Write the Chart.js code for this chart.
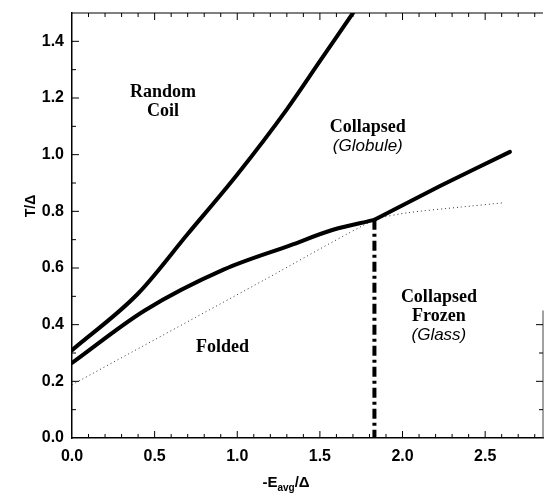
<!DOCTYPE html>
<html>
<head>
<meta charset="utf-8">
<script src="https://cdn.jsdelivr.net/npm/chart.js@4/dist/chart.umd.min.js"></script>
<style>
  html, body { margin: 0; padding: 0; background: #fff; }
  #wrap { width: 545px; height: 493px; position: relative; }
</style>
</head>
<body>
<div id="wrap"><canvas id="phase"></canvas></div>
<script>
// Phase boundaries, read as (-E_avg/Δ, T/Δ) pairs
const coilX = [0, 0.40, 0.70, 1.0, 1.30, 1.50, 1.70];
const coilY = [0.31, 0.51, 0.72, 0.93, 1.16, 1.33, 1.50];

const foldX = [0, 0.44, 0.92, 1.32, 1.58, 1.83, 2.23, 2.65];
const foldY = [0.265, 0.45, 0.595, 0.68, 0.735, 0.77, 0.89, 1.01];
const kinkIndex = 5; // where the folding line meets the freezing line

const glassX = [0, 1.17, 1.83, 2.03, 2.35, 2.61];
const glassY = [0.188, 0.56, 0.77, 0.795, 0.815, 0.83];

const freezeX = [1.83, 1.83];
const freezeY = [0.77, 0];

const xTicks = [0, 0.5, 1.0, 1.5, 2.0, 2.5];
const yTicks = [0, 0.2, 0.4, 0.6, 0.8, 1.0, 1.2, 1.4];

// region names, anchored in data units
const regionNames = [
  { lines: ['Random', 'Coil'], x: 0.55, y: 1.22, italic: [false, false] },
  { lines: ['Collapsed', '(Globule)'], x: 1.79, y: 1.095, italic: [false, true] },
  { lines: ['Folded'], x: 0.91, y: 0.32, italic: [false] },
  { lines: ['Collapsed', 'Frozen', '(Glass)'], x: 2.22, y: 0.495, italic: [false, false, true] }
];

const pts = (xs, ys) => xs.map((x, i) => ({ x: x, y: ys[i] }));

// inward tick marks on the frame, plus labels and axis titles
const framePlugin = {
  id: 'frame',
  afterDraw(chart) {
    const ctx = chart.ctx;
    const xs = chart.scales.x, ys = chart.scales.y;
    const a = chart.chartArea;
    ctx.save();
    ctx.strokeStyle = '#000';
    ctx.lineWidth = 1;

    // top line
    ctx.beginPath();
    ctx.moveTo(a.left, a.top);
    ctx.lineTo(a.right, a.top);
    ctx.stroke();
    // right edge only shows faintly near the bottom
    ctx.strokeStyle = '#444';
    ctx.beginPath();
    ctx.moveTo(a.right, a.bottom);
    ctx.lineTo(a.right, ys.getPixelForValue(0.45));
    ctx.stroke();
    ctx.strokeStyle = '#000';

    for (let i = 1; i <= 28; i++) {
      const v = i / 10;
      const px = xs.getPixelForValue(v);
      const len = (i % 5 === 0) ? 7 : 4;
      ctx.beginPath();
      ctx.moveTo(px, a.bottom); ctx.lineTo(px, a.bottom - len);
      ctx.moveTo(px, a.top); ctx.lineTo(px, a.top + len);
      ctx.stroke();
    }
    for (let i = 1; i <= 14; i++) {
      const v = i / 10;
      const py = ys.getPixelForValue(v);
      const len = (i % 2 === 0) ? 7 : 4;
      ctx.beginPath();
      ctx.moveTo(a.left, py); ctx.lineTo(a.left + len, py);
      ctx.stroke();
      if (v <= 0.45) {
        ctx.beginPath();
        ctx.moveTo(a.right, py); ctx.lineTo(a.right - len, py);
        ctx.stroke();
      }
    }

    // region names
    ctx.fillStyle = '#000';
    ctx.textAlign = 'center';
    ctx.textBaseline = 'middle';
    regionNames.forEach(r => {
      const cx = xs.getPixelForValue(r.x);
      const cy = ys.getPixelForValue(r.y);
      r.lines.forEach((t, k) => {
        ctx.font = r.italic[k] ? 'italic 17px "Liberation Sans"' : 'bold 18px "Liberation Serif"';
        ctx.fillText(t, cx, cy + k * 19);
      });
    });

    // y title
    ctx.save();
    ctx.translate(31, 206);
    ctx.rotate(-Math.PI / 2);
    ctx.font = 'bold 14px "Liberation Sans"';
    ctx.fillText('T/Δ', 0, 0);
    ctx.restore();

    // x title with subscript
    ctx.textAlign = 'left';
    ctx.textBaseline = 'alphabetic';
    const big = 'bold 15px "Liberation Sans"', small = 'bold 10px "Liberation Sans"';
    ctx.font = big;
    const w1 = ctx.measureText('-E').width, w3 = ctx.measureText('/Δ').width;
    ctx.font = small;
    const w2 = ctx.measureText('avg').width;
    let x0 = 286 - (w1 + w2 + w3) / 2;
    const base = 487;
    ctx.font = big; ctx.fillText('-E', x0, base); x0 += w1;
    ctx.font = small; ctx.fillText('avg', x0, base + 4); x0 += w2;
    ctx.font = big; ctx.fillText('/Δ', x0, base);
    ctx.restore();
  }
};

const heavy = { borderColor: '#000', borderWidth: 4, pointRadius: 0, fill: false, showLine: true,
  borderCapStyle: 'round', borderJoinStyle: 'round' };

const foldPts = pts(foldX, foldY);

new Chart(document.getElementById('phase'), {
  type: 'scatter',
  data: {
    datasets: [
      Object.assign({ data: pts(coilX, coilY), cubicInterpolationMode: 'monotone' }, heavy),
      // folding line: curved up to the kink, straight beyond it
      Object.assign({ data: foldPts.slice(0, kinkIndex + 1), cubicInterpolationMode: 'monotone' }, heavy),
      Object.assign({ data: foldPts.slice(kinkIndex), tension: 0.1 }, heavy),
      { data: pts(glassX, glassY), borderColor: '#333', borderWidth: 1, borderDash: [1, 3],
        pointRadius: 0, showLine: true, tension: 0.2 },
      { data: pts(freezeX, freezeY), borderColor: '#000', borderWidth: 4, borderDash: [10, 4, 3, 4],
        pointRadius: 0, showLine: true }
    ]
  },
  options: {
    responsive: true,
    maintainAspectRatio: false,
    animation: false,
    layout: { padding: { top: 13, right: 2, left: 0, bottom: 0 } },
    plugins: { legend: { display: false }, tooltip: { enabled: false } },
    scales: {
      x: {
        type: 'linear', min: 0, max: 2.85,
        grid: { display: false },
        border: { display: true, color: '#000', width: 1.5 },
        afterBuildTicks: s => { s.ticks = xTicks.map(v => ({ value: v })); },
        afterFit: s => { s.height = 55; },
        ticks: {
          padding: 1, color: '#000', maxRotation: 0,
          font: { family: 'Liberation Sans', size: 16, weight: 'bold' },
          callback: v => v.toFixed(1)
        }
      },
      y: {
        min: 0, max: 1.5,
        grid: { display: false },
        border: { display: true, color: '#000', width: 1.5 },
        afterBuildTicks: s => { s.ticks = yTicks.map(v => ({ value: v })); },
        afterFit: s => { s.width = 72; },
        ticks: {
          padding: 0, color: '#000',
          font: { family: 'Liberation Sans', size: 16, weight: 'bold' },
          callback: v => v.toFixed(1)
        }
      }
    }
  },
  plugins: [framePlugin]
});
</script>
</body>
</html>
